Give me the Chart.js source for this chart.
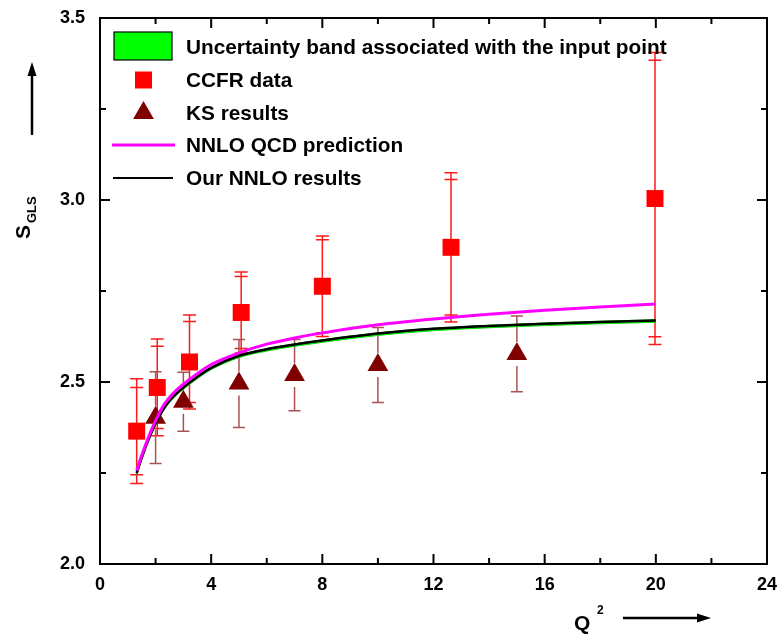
<!DOCTYPE html>
<html><head><meta charset="utf-8">
<script src="https://cdn.jsdelivr.net/npm/chart.js@4.4.0/dist/chart.umd.min.js"></script>
<style>html,body{margin:0;padding:0;background:#fff}#wrap{width:781px;height:637px;position:relative}</style>
</head><body><div id="wrap"><canvas id="c" width="781" height="637"></canvas></div>
<script>
// ---- data ----
const xTicks = [0, 4, 8, 12, 16, 20, 24];
const xMinorTicks = [2, 6, 10, 14, 18, 22];
const yTicks = [2.0, 2.5, 3.0, 3.5];
const yMinorTicks = [2.25, 2.75, 3.25];

const ccfrQ2 = [1.32, 2.06, 3.22, 5.08, 8.0, 12.63, 19.97];
const ccfrS = [2.365, 2.485, 2.555, 2.691, 2.763, 2.870, 3.004];
const ccfrStatErr = [0.120, 0.113, 0.111, 0.099, 0.128, 0.186, 0.380];
const ccfrTotErr = [0.144, 0.133, 0.129, 0.111, 0.138, 0.205, 0.401];

const ksQ2 = [2, 3, 5, 7, 10, 15];
const ksS = [2.402, 2.446, 2.496, 2.519, 2.547, 2.577];
const ksErr = [0.126, 0.081, 0.121, 0.098, 0.103, 0.104];

const curveQ2 = [1.32, 1.5, 1.8, 2.04, 2.3, 2.6, 3.0, 3.5, 4.0, 5.0, 6.0, 7.0, 8.0, 10, 12, 14, 16, 18, 20];
const qcdS = [2.256, 2.298, 2.359, 2.400, 2.437, 2.466, 2.494, 2.523, 2.548, 2.580, 2.604, 2.621, 2.635, 2.657, 2.673, 2.686, 2.697, 2.706, 2.714];
const ourS = [2.250, 2.292, 2.352, 2.392, 2.428, 2.457, 2.485, 2.514, 2.539, 2.572, 2.590, 2.603, 2.614, 2.633, 2.646, 2.654, 2.660, 2.665, 2.669];
const bandLow = [2.245, 2.287, 2.347, 2.387, 2.423, 2.452, 2.480, 2.509, 2.534, 2.567, 2.585, 2.598, 2.609, 2.628, 2.641, 2.649, 2.655, 2.660, 2.664];
const bandHigh = [2.252, 2.294, 2.354, 2.394, 2.430, 2.459, 2.487, 2.516, 2.541, 2.574, 2.592, 2.605, 2.616, 2.635, 2.648, 2.656, 2.662, 2.667, 2.671];

const legendLabels = ['Uncertainty band associated with the input point', 'CCFR data', 'KS results', 'NNLO QCD prediction', 'Our NNLO results'];

const FONT = "'Liberation Sans', Arial, sans-serif";
const pts = (xs, ys) => xs.map((x, i) => ({x: x, y: ys[i]}));

const errorBars = {
  id: 'errorBars',
  beforeDatasetsDraw(chart) {
    const ctx = chart.ctx, xs = chart.scales.x, ys = chart.scales.y;
    ctx.save();
    ctx.lineCap = 'butt';
    ctx.strokeStyle = '#ff1a1a';
    ctx.lineWidth = 1.5;
    ccfrQ2.forEach((q, i) => {
      const px = xs.getPixelForValue(q);
      const v = ccfrS[i];
      ctx.beginPath();
      ctx.moveTo(px, ys.getPixelForValue(v + ccfrTotErr[i]));
      ctx.lineTo(px, ys.getPixelForValue(v - ccfrTotErr[i]));
      [v + ccfrTotErr[i], v + ccfrStatErr[i], v - ccfrStatErr[i], v - ccfrTotErr[i]].forEach(e => {
        const py = ys.getPixelForValue(e);
        ctx.moveTo(px - 6.5, py); ctx.lineTo(px + 6.5, py);
      });
      ctx.stroke();
    });
    ctx.strokeStyle = '#a85252';
    ksQ2.forEach((q, i) => {
      const px = xs.getPixelForValue(q);
      const pc = ys.getPixelForValue(ksS[i]);
      const pt = ys.getPixelForValue(ksS[i] + ksErr[i]);
      const pb = ys.getPixelForValue(ksS[i] - ksErr[i]);
      ctx.beginPath();
      ctx.moveTo(px, pt); ctx.lineTo(px, Math.max(pt, pc - 12));
      ctx.moveTo(px, Math.min(pb, pc + 12)); ctx.lineTo(px, pb);
      ctx.moveTo(px - 6, pt); ctx.lineTo(px + 6, pt);
      ctx.moveTo(px - 6, pb); ctx.lineTo(px + 6, pb);
      ctx.stroke();
    });
    ctx.restore();
  }
};

const frameAndText = {
  id: 'frameAndText',
  afterDraw(chart) {
    const ctx = chart.ctx, xs = chart.scales.x, ys = chart.scales.y, a = chart.chartArea;
    ctx.save();
    ctx.strokeStyle = '#000';
    ctx.fillStyle = '#000';
    ctx.lineWidth = 2;
    ctx.strokeRect(a.left, a.top, a.right - a.left, a.bottom - a.top);
    ctx.beginPath();
    const tickX = (vals, len) => vals.forEach(v => {
      const px = xs.getPixelForValue(v);
      ctx.moveTo(px, a.bottom); ctx.lineTo(px, a.bottom - len);
      ctx.moveTo(px, a.top); ctx.lineTo(px, a.top + len);
    });
    const tickY = (vals, len) => vals.forEach(v => {
      const py = ys.getPixelForValue(v);
      ctx.moveTo(a.left, py); ctx.lineTo(a.left + len, py);
      ctx.moveTo(a.right, py); ctx.lineTo(a.right - len, py);
    });
    tickX(xTicks, 10); tickX(xMinorTicks, 6);
    tickY(yTicks, 10); tickY(yMinorTicks, 6);
    ctx.stroke();

    // legend
    const lx = 114, tx = 186, rows = [47, 80, 113, 145, 178];
    ctx.fillStyle = '#00ff00';
    ctx.fillRect(lx, 32, 58, 28);
    ctx.lineWidth = 1.2;
    ctx.strokeStyle = '#000';
    ctx.strokeRect(lx, 32, 58, 28);
    ctx.fillStyle = '#ff0000';
    ctx.fillRect(135, rows[1] - 8.5, 17, 17);
    ctx.fillStyle = '#800000';
    ctx.beginPath();
    ctx.moveTo(143.5, rows[2] - 12);
    ctx.lineTo(143.5 + 10.4, rows[2] + 6);
    ctx.lineTo(143.5 - 10.4, rows[2] + 6);
    ctx.closePath(); ctx.fill();
    ctx.strokeStyle = '#ff00ff'; ctx.lineWidth = 3;
    ctx.beginPath(); ctx.moveTo(112, rows[3]); ctx.lineTo(175, rows[3]); ctx.stroke();
    ctx.strokeStyle = '#000'; ctx.lineWidth = 2;
    ctx.beginPath(); ctx.moveTo(113, rows[4]); ctx.lineTo(173, rows[4]); ctx.stroke();
    ctx.fillStyle = '#000';
    ctx.font = 'bold 20.8px ' + FONT;
    ctx.textBaseline = 'middle';
    ctx.textAlign = 'left';
    legendLabels.forEach((t, i) => ctx.fillText(t, tx, rows[i] + 1));

    // y axis title S_GLS with arrow
    ctx.save();
    ctx.translate(30, 203);
    ctx.rotate(-Math.PI / 2);
    ctx.textBaseline = 'alphabetic';
    ctx.textAlign = 'left';
    ctx.font = 'bold 21px ' + FONT;
    ctx.fillText('S', -36, 0);
    ctx.font = 'bold 13px ' + FONT;
    ctx.fillText('GLS', -20, 6);
    ctx.restore();
    ctx.lineWidth = 2.5;
    ctx.beginPath(); ctx.moveTo(32, 135); ctx.lineTo(32, 72); ctx.stroke();
    ctx.beginPath(); ctx.moveTo(32, 62); ctx.lineTo(27.5, 76); ctx.lineTo(36.5, 76); ctx.closePath(); ctx.fill();

    // x axis title Q^2 with arrow
    ctx.textBaseline = 'alphabetic';
    ctx.font = 'bold 21px ' + FONT;
    ctx.fillText('Q', 574, 630);
    ctx.font = 'bold 12px ' + FONT;
    ctx.fillText('2', 597, 614);
    ctx.lineWidth = 2.5;
    ctx.beginPath(); ctx.moveTo(623, 618); ctx.lineTo(700, 618); ctx.stroke();
    ctx.beginPath(); ctx.moveTo(711, 618); ctx.lineTo(697, 613.5); ctx.lineTo(697, 622.5); ctx.closePath(); ctx.fill();
    ctx.restore();
  }
};

new Chart(document.getElementById('c'), {
  type: 'scatter',
  data: {
    datasets: [
      {label: 'NNLO QCD prediction', type: 'line', data: pts(curveQ2, qcdS), borderColor: '#ff00ff', borderWidth: 3, pointRadius: 0, fill: false, cubicInterpolationMode: 'monotone', order: 0},
      {label: 'Our NNLO results', type: 'line', data: pts(curveQ2, ourS), borderColor: '#000000', borderWidth: 2.5, pointRadius: 0, fill: false, cubicInterpolationMode: 'monotone', order: 1},
      {label: 'band low', type: 'line', data: pts(curveQ2, bandLow), borderColor: '#00cc00', borderWidth: 1, pointRadius: 0, fill: false, cubicInterpolationMode: 'monotone', order: 3},
      {label: 'Uncertainty band', type: 'line', data: pts(curveQ2, bandHigh), borderColor: '#00cc00', backgroundColor: '#00ff00', borderWidth: 1, pointRadius: 0, fill: '-1', cubicInterpolationMode: 'monotone', order: 2},
      {label: 'CCFR data', data: pts(ccfrQ2, ccfrS), pointStyle: 'rect', pointRadius: 12, backgroundColor: '#ff0000', borderColor: '#ff0000', borderWidth: 0, showLine: false, order: 4},
      {label: 'KS results', data: pts(ksQ2, ksS), pointStyle: 'triangle', pointRadius: 12, backgroundColor: '#800000', borderColor: '#800000', borderWidth: 0, showLine: false, order: 5}
    ]
  },
  options: {
    responsive: false, animation: false, devicePixelRatio: 1,
    layout: {padding: {top: 18, right: 14, left: 0, bottom: 0}},
    plugins: {legend: {display: false}, tooltip: {enabled: false}},
    scales: {
      x: {
        type: 'linear', min: 0, max: 24,
        afterBuildTicks: s => { s.ticks = xTicks.map(v => ({value: v})); },
        afterFit: s => { s.height = 73; s.paddingLeft = 0; s.paddingRight = 0; },
        grid: {display: false, drawTicks: false}, border: {display: false},
        ticks: {color: '#000', padding: 10, maxRotation: 0, font: {family: FONT, size: 18, weight: 'bold'}, callback: v => String(v)}
      },
      y: {
        type: 'linear', min: 2, max: 3.5,
        afterBuildTicks: s => { s.ticks = yTicks.map(v => ({value: v})); },
        afterFit: s => { s.width = 100; s.paddingTop = 0; s.paddingBottom = 0; },
        grid: {display: false, drawTicks: false}, border: {display: false},
        ticks: {color: '#000', padding: 15, font: {family: FONT, size: 18, weight: 'bold'}, callback: v => Number(v).toFixed(1)}
      }
    }
  },
  plugins: [errorBars, frameAndText]
});
</script></body></html>
